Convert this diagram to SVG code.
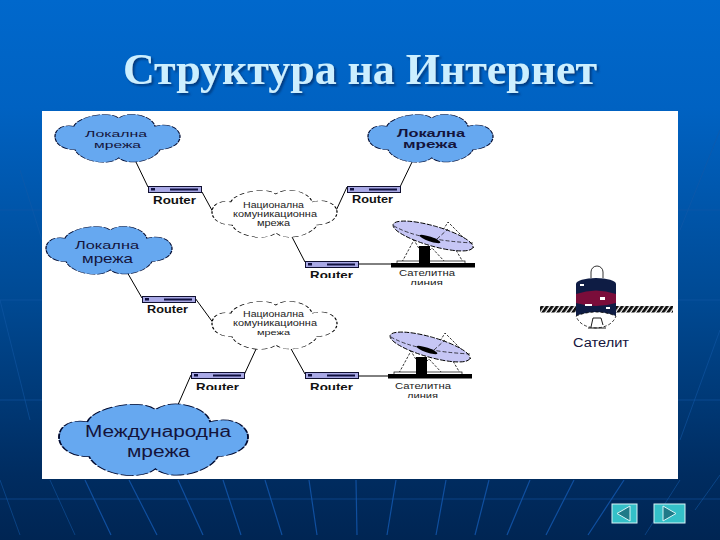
<svg xmlns="http://www.w3.org/2000/svg" xmlns:xlink="http://www.w3.org/1999/xlink" width="720" height="540" viewBox="0 0 720 540">
<style>
.ln{stroke:#000;stroke-width:1;fill:none}
.bg{stroke:#0f4f9f;stroke-width:1.2;fill:none}
.bf{stroke:#1259a8;stroke-width:1;fill:none;opacity:.55}
.blue{fill:#66a8f0;stroke:#000a30;stroke-width:1;stroke-dasharray:7 1.5;vector-effect:non-scaling-stroke}
.white{fill:#fff;stroke:#000;stroke-width:1;stroke-dasharray:5 3;vector-effect:non-scaling-stroke}
text{font-family:"Liberation Sans",Arial,sans-serif;text-anchor:start}
.cl{fill:#14143c}
.small{fill:#222;font-size:8.500px}
.rt{fill:#111;font-size:10px;font-weight:bold}
.title{font-family:"Liberation Serif","Times New Roman",serif;font-size:44px;font-weight:bold;fill:#ccefff;filter:url(#sh)}
</style>
<defs>
<linearGradient id="bgg" x1="0" y1="0" x2="0" y2="1">
<stop offset="0" stop-color="#0068cc"/><stop offset=".2" stop-color="#0062c2"/><stop offset=".55" stop-color="#004a94"/><stop offset=".88" stop-color="#002c60"/><stop offset="1" stop-color="#002553"/>
</linearGradient>
<filter id="sh" x="-5%" y="-20%" width="110%" height="140%"><feDropShadow dx="2" dy="2" stdDeviation=".8" flood-color="#003a80"/></filter>
<path id="cloud" d="M15 26C18 8 42-6 51 10C60-6 78 6 80 26C92 18 100 32 100 46C100 60 94 70 84 72C80 92 60 106 51 88C42 106 20 94 16 72C6 72 0 60 0 46C0 32 6 22 15 26Z"/>
<pattern id="hatch" width="5" height="7" patternUnits="userSpaceOnUse" patternTransform="skewX(-35)">
<rect width="5" height="7" fill="#fff"/><rect width="3.500" height="7" fill="#111"/>
</pattern>
<g id="router">
<rect x=".5" y=".5" width="53" height="6" fill="#a9a9e6" stroke="#101030"/>
<rect x="3" y="2" width="4" height="2.500" fill="#101040"/>
<rect x="22" y="2.500" width="28" height="2" fill="#101040"/>
</g>
<g id="dish">
<path d="M402 262L414 240L427 262M445 262L432 248L418 262M450 240L463 262M437 240L448 222L474 248" fill="none" stroke="#000" stroke-width=".8" stroke-dasharray="2.500 1.500"/>
<rect x="397" y="261" width="68" height="3" fill="#fff" stroke="#000" stroke-width=".7"/>
<rect x="391" y="263" width="84" height="4.500" fill="#000"/>
<rect x="419" y="246" width="11" height="17" fill="#000"/>
<ellipse cx="433" cy="236" rx="41.500" ry="10" transform="rotate(16 433 236)" fill="#c6c6f5" stroke="#000" stroke-dasharray="5 1.500" stroke-width=".9"/>
<path d="M394 226Q418 240 473 243M437 239L448 229" fill="none" stroke="#000" stroke-width=".7" stroke-dasharray="4 2"/>
<ellipse cx="430" cy="239" rx="11" ry="2.300" transform="rotate(19 430 239)" fill="#000"/>
</g>
<clipPath id="c1"><rect x="300" y="265" width="60" height="13"/></clipPath>
<clipPath id="c2"><rect x="190" y="378" width="170" height="12"/></clipPath>
<clipPath id="c3"><rect x="400" y="277" width="60" height="8"/></clipPath>
<clipPath id="c4"><rect x="400" y="390" width="60" height="8"/></clipPath>
</defs>

<rect width="720" height="540" fill="url(#bgg)"/>
<g id="background-lines">
<path class="bg" d="M85 480L111 535M129 480L157 535M178 480L203 535M223 480L241 535M265 480L282 535M309 480L317 535M356 480L357 535M396 480L387 535M446 480L436 535M489 480L475 535M530 480L507 535M574 480L546 535M624 480L588 535"/>
<path class="bf" d="M0 499H720M0 300H42M678 300H720M0 210H42M678 210H720M0 400H42M678 400H720M0 480L20 535M50 480L75 535M680 480L645 535M720 475L695 510M20 170L42 240M0 300L30 420M720 130L680 230M720 330L680 440"/>
</g>

<text class="title" x="123" y="84" textLength="474" lengthAdjust="spacingAndGlyphs">Структура на Интернет</text>

<rect id="panel" x="42" y="111" width="636" height="368" fill="#fff"/>

<g id="connectors">
<path class="ln" d="M135 160L148 187M202 192L214 214M291 235L305 262M334 215L347 187M400 187L413 160M358 264H392M127 272L142 298M195 298L214 324M257 347L244 375M290 347L305 374M191 375L177 407M358 376H390"/>
</g>

<g id="cloud-local-1"><use href="#cloud" class="blue" transform="translate(55 113) scale(1.25 .51)"/>
<text class="cl" x="85" y="137" font-size="9.500" textLength="62" lengthAdjust="spacingAndGlyphs">Локална</text><text class="cl" x="94" y="147.500" font-size="9.500" textLength="47" lengthAdjust="spacingAndGlyphs">мрежа</text></g>
<g id="cloud-local-2"><use href="#cloud" class="blue" transform="translate(368 113) scale(1.25 .51)"/>
<text class="cl" x="397" y="137" font-size="11" textLength="68" lengthAdjust="spacingAndGlyphs" font-weight="bold">Локална</text><text class="cl" x="403" y="148" font-size="11" textLength="54" lengthAdjust="spacingAndGlyphs" font-weight="bold">мрежа</text></g>
<g id="cloud-local-3"><use href="#cloud" class="blue" transform="translate(46 225) scale(1.26 .51)"/>
<text class="cl" x="75" y="249" font-size="11" textLength="64" lengthAdjust="spacingAndGlyphs">Локална</text><text class="cl" x="82" y="263" font-size="13" textLength="51" lengthAdjust="spacingAndGlyphs">мрежа</text></g>
<g id="cloud-international"><use href="#cloud" class="blue" transform="translate(59 402) scale(1.89 .76)"/>
<text class="cl" x="85" y="437" font-size="16" textLength="146" lengthAdjust="spacingAndGlyphs">Международна</text><text class="cl" x="127" y="457" font-size="16" textLength="63" lengthAdjust="spacingAndGlyphs">мрежа</text></g>
<g id="cloud-national-1"><use href="#cloud" class="white" transform="translate(212 189) scale(1.25 .5)"/>
<text class="small" x="243" y="208" textLength="61" lengthAdjust="spacingAndGlyphs">Национална</text><text class="small" x="233" y="217" textLength="84" lengthAdjust="spacingAndGlyphs">комуникационна</text><text class="small" x="257" y="226" textLength="33" lengthAdjust="spacingAndGlyphs">мрежа</text></g>
<g id="cloud-national-2"><use href="#cloud" class="white" transform="translate(212 300) scale(1.25 .51)"/>
<text class="small" x="243" y="317" textLength="61" lengthAdjust="spacingAndGlyphs">Национална</text><text class="small" x="233" y="326" textLength="84" lengthAdjust="spacingAndGlyphs">комуникационна</text><text class="small" x="257" y="335" textLength="33" lengthAdjust="spacingAndGlyphs" style="font-size:7px">мрежа</text></g>

<g id="router-1"><use href="#router" transform="translate(148 186)"/><text class="rt" x="153" y="204" textLength="43" lengthAdjust="spacingAndGlyphs">Router</text></g>
<g id="router-2"><use href="#router" transform="translate(347 186)"/><text class="rt" x="352" y="203" textLength="41" lengthAdjust="spacingAndGlyphs">Router</text></g>
<g id="router-3"><use href="#router" transform="translate(305 261)"/><text class="rt" x="310" y="279" textLength="43" lengthAdjust="spacingAndGlyphs" clip-path="url(#c1)">Router</text></g>
<g id="router-4"><use href="#router" transform="translate(142 296)"/><text class="rt" x="147" y="313" textLength="41" lengthAdjust="spacingAndGlyphs">Router</text></g>
<g id="router-5"><use href="#router" transform="translate(191 372)"/><text class="rt" x="196" y="391" textLength="43" lengthAdjust="spacingAndGlyphs" clip-path="url(#c2)">Router</text></g>
<g id="router-6"><use href="#router" transform="translate(305 372)"/><text class="rt" x="310" y="391" textLength="43" lengthAdjust="spacingAndGlyphs" clip-path="url(#c2)">Router</text></g>

<g id="dish-1"><use href="#dish"/>
<text class="small" x="399" y="276" textLength="56" lengthAdjust="spacingAndGlyphs">Сателитна</text><text class="small" x="410" y="286" textLength="33" lengthAdjust="spacingAndGlyphs" clip-path="url(#c3)">линия</text></g>
<g id="dish-2"><use href="#dish" transform="translate(-3 111)"/>
<text class="small" x="395" y="389" textLength="56" lengthAdjust="spacingAndGlyphs">Сателитна</text><text class="small" x="407" y="399" textLength="31" lengthAdjust="spacingAndGlyphs" clip-path="url(#c4)">линия</text></g>

<g id="satellite">
<rect x="540" y="306" width="36" height="6.500" fill="url(#hatch)"/>
<rect x="616" y="306" width="57" height="6.500" fill="url(#hatch)"/>
<path d="M591 278V272A6 6 0 0 1 603 272V278" fill="#fff" stroke="#000" stroke-width=".8"/>
<path d="M576 284A20 6 0 0 1 616 284V316H576Z" fill="#0e1c44"/>
<path d="M576 294Q596 287 616 294V303Q596 309 576 303Z" fill="#7a0d3a"/>
<path d="M576 316Q596 308 616 316Q612 327 596 328Q580 327 576 316Z" fill="#fff" stroke="#000" stroke-width=".8" stroke-dasharray="3 2"/>
<path d="M580 284h4v2h-4zM600 297h5v3h-5zM585 304h7v2h-7zM606 307h4v2h-4z" fill="#fff"/>
<path d="M591 327L593 318H601L603 325M588 328H606" fill="none" stroke="#000" stroke-width=".9"/>
<text x="573" y="347" font-size="12" fill="#14143c" textLength="56" lengthAdjust="spacingAndGlyphs">Сателит</text>
</g>

<g id="button-prev"><rect x="612" y="504" width="25" height="19" fill="#34c0c8" stroke="#d8f4f6"/><path d="M617 513.500L630 506V521Z" fill="#1f7a88" stroke="#d8f4f6"/></g>
<g id="button-next"><rect x="654" y="504" width="31" height="19" fill="#34c0c8" stroke="#d8f4f6"/><path d="M676 513.500L663 506V521Z" fill="#1f7a88" stroke="#d8f4f6"/></g>
</svg>
